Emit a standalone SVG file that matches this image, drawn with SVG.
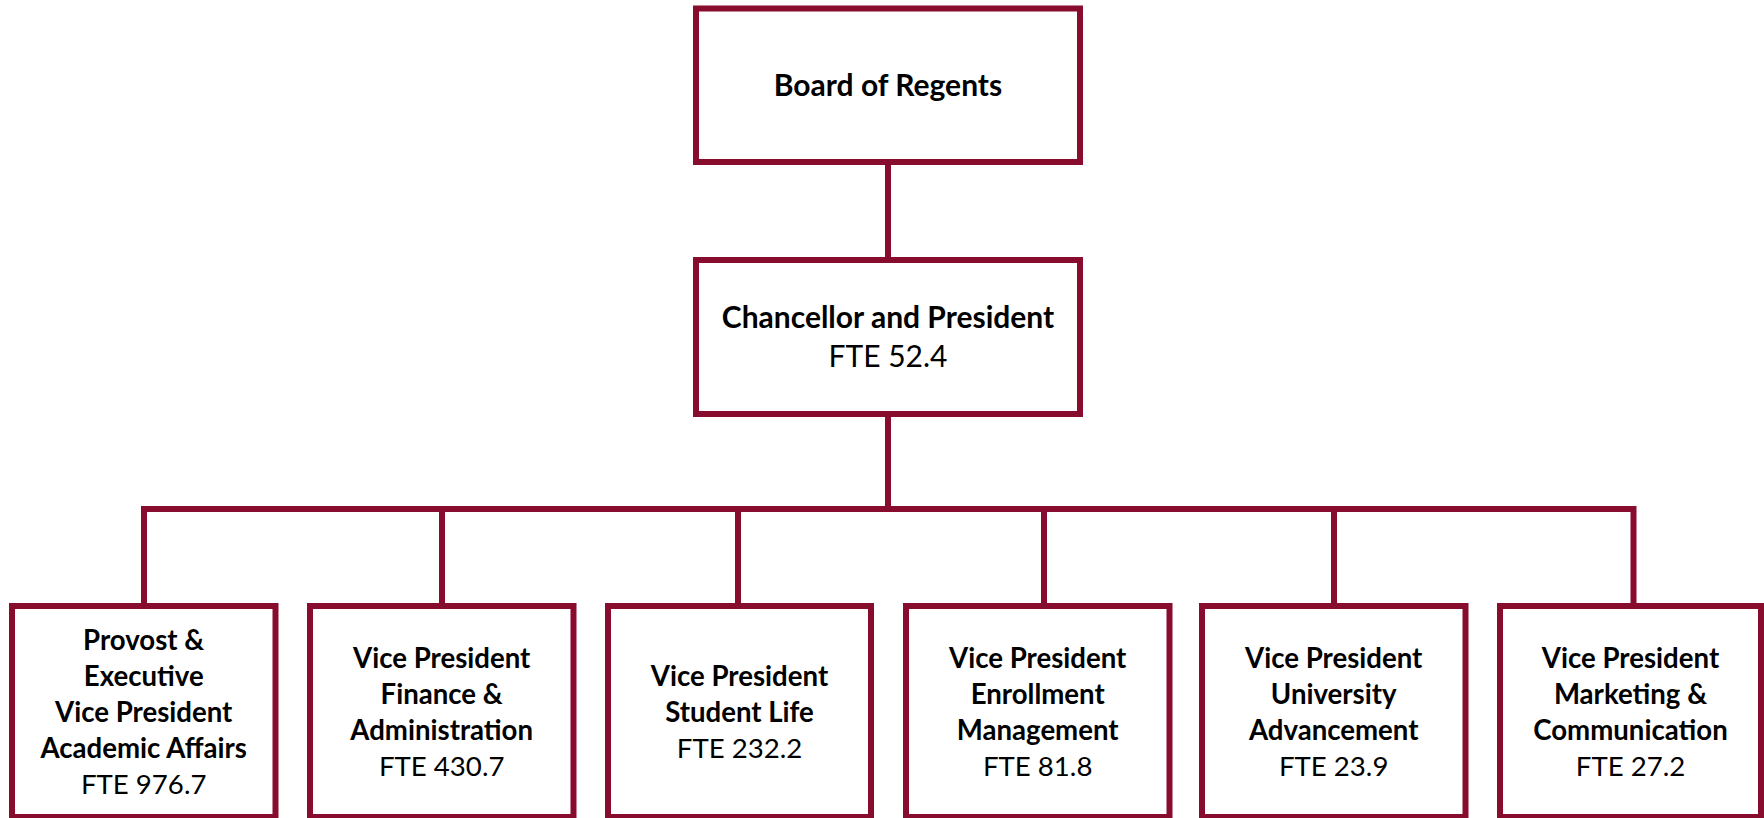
<svg xmlns="http://www.w3.org/2000/svg" width="1764" height="818" viewBox="0 0 1764 818">
<style>
.box{fill:#fff;stroke:#880C2E;stroke-width:6}
.ln{stroke:#880C2E;stroke-width:6;fill:none}
text{font-family:Lato,"Liberation Sans",sans-serif;fill:#000;text-anchor:middle}
.t{font-weight:bold;font-size:30px}
.f{font-size:30px}
.bt{font-weight:bold;font-size:27.6px}
.bf{font-size:27.6px}
</style>
<rect width="1764" height="818" fill="#fff"/>
<g id="connectors">
<line class="ln" x1="888" y1="162" x2="888" y2="260"/>
<line class="ln" x1="888" y1="414" x2="888" y2="509"/>
<polyline class="ln" points="144,606 144,509 1633.5,509 1633.5,606"/>
<line class="ln" x1="442" y1="509" x2="442" y2="606"/>
<line class="ln" x1="738" y1="509" x2="738" y2="606"/>
<line class="ln" x1="1044" y1="509" x2="1044" y2="606"/>
<line class="ln" x1="1334" y1="509" x2="1334" y2="606"/>
</g>
<g id="board">
<rect class="box" x="696" y="8.5" width="384" height="153.5"/>
<text class="t" x="888" y="96">Board of Regents</text>
</g>
<g id="chancellor">
<rect class="box" x="696" y="260" width="384" height="154"/>
<text class="t" x="888" y="327.5">Chancellor and President</text>
<text class="f" x="888" y="366.5">FTE 52.4</text>
</g>
<g id="provost">
<rect class="box" x="12" y="606" width="263.5" height="211"/>
<text class="bt" x="143.7" y="649.5">Provost &amp;</text>
<text class="bt" x="143.7" y="685.5">Executive</text>
<text class="bt" x="143.7" y="721.5">Vice President</text>
<text class="bt" x="143.7" y="757.5">Academic Affairs</text>
<text class="bf" x="143.7" y="793.5">FTE 976.7</text>
</g>
<g id="finance">
<rect class="box" x="310" y="606" width="263.5" height="211"/>
<text class="bt" x="441.7" y="667.5">Vice President</text>
<text class="bt" x="441.7" y="703.5">Finance &amp;</text>
<text class="bt" x="441.7" y="739.5">Administration</text>
<text class="bf" x="441.7" y="775.5">FTE 430.7</text>
</g>
<g id="student-life">
<rect class="box" x="608" y="606" width="263" height="211"/>
<text class="bt" x="739.5" y="685.5">Vice President</text>
<text class="bt" x="739.5" y="721.5">Student Life</text>
<text class="bf" x="739.5" y="757.5">FTE 232.2</text>
</g>
<g id="enrollment">
<rect class="box" x="906" y="606" width="263.5" height="211"/>
<text class="bt" x="1037.7" y="667.5">Vice President</text>
<text class="bt" x="1037.7" y="703.5">Enrollment</text>
<text class="bt" x="1037.7" y="739.5">Management</text>
<text class="bf" x="1037.7" y="775.5">FTE 81.8</text>
</g>
<g id="advancement">
<rect class="box" x="1202" y="606" width="263.5" height="211"/>
<text class="bt" x="1333.7" y="667.5">Vice President</text>
<text class="bt" x="1333.7" y="703.5">University</text>
<text class="bt" x="1333.7" y="739.5">Advancement</text>
<text class="bf" x="1333.7" y="775.5">FTE 23.9</text>
</g>
<g id="marketing">
<rect class="box" x="1500" y="606" width="261" height="211"/>
<text class="bt" x="1630.5" y="667.5">Vice President</text>
<text class="bt" x="1630.5" y="703.5">Marketing &amp;</text>
<text class="bt" x="1630.5" y="739.5">Communication</text>
<text class="bf" x="1630.5" y="775.5">FTE 27.2</text>
</g>
</svg>
